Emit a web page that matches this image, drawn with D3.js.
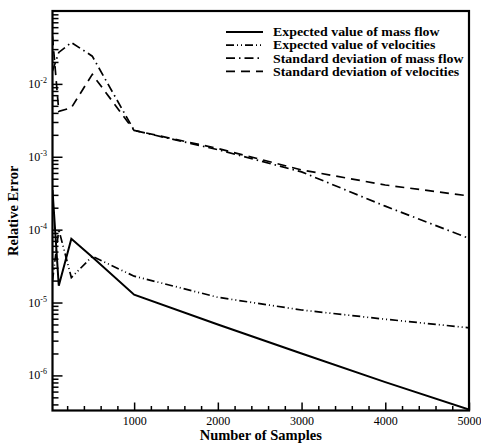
<!DOCTYPE html>
<html>
<head>
<meta charset="utf-8">
<script src="https://cdn.jsdelivr.net/npm/d3@7"></script>
<style>
  body { margin: 0; background: #fff; }
  svg { display: block; font-family: "Liberation Serif", "Times New Roman", serif; }
</style>
</head>
<body>
<svg id="chart" width="481" height="443"></svg>
<script>
// data
var samples = [25, 100, 250, 500, 1000, 2000, 3000, 4000, 5000];
var expMassFlow = [3.5e-4, 1.7e-5, 7.5e-5, 4.2e-5, 1.28e-5, 5.0e-6, 2.0e-6, 8.1e-7, 3.4e-7];
var expVelocities = [2.0e-5, 1.0e-4, 2.2e-5, 4.3e-5, 2.3e-5, 1.18e-5, 7.9e-6, 5.9e-6, 4.5e-6];
var stdMassFlow = [1.5e-2, 2.7e-2, 3.7e-2, 2.4e-2, 2.3e-3, 1.25e-3, 6.2e-4, 2.1e-4, 7.6e-5];
var stdVelocities = [4.5e-2, 4.2e-3, 4.7e-3, 1.35e-2, 2.3e-3, 1.3e-3, 6.6e-4, 4.1e-4, 2.9e-4];

var seriesNames = ["Expected value of mass flow", "Expected value of velocities",
  "Standard deviation of mass flow", "Standard deviation of velocities"];
var xTicks = [1000, 2000, 3000, 4000, 5000];
var yTickExp = [-2, -3, -4, -5, -6];

var series = [
  { name: seriesNames[0], values: expMassFlow, dash: null },
  { name: seriesNames[1], values: expVelocities, dash: "8,3,1,3,1,3" },
  { name: seriesNames[2], values: stdMassFlow, dash: "9,4,1.5,4" },
  { name: seriesNames[3], values: stdVelocities, dash: "9,6" }
];

// plot box (window.top is reserved, so use own names)
var plotL = 52.5, plotR = 469, plotT = 11, plotB = 410.5;

var svg = d3.select("#chart");

var x = d3.scaleLinear().domain([25, 5000]).range([plotL, plotR]);
var y = d3.scaleLog().domain([3.3e-7, 0.1]).range([plotB, plotT]);

// minor ticks
var xMinor = d3.range(200, 5000, 200).filter(function(v) { return v % 1000 !== 0; });
var yMinor = [];
for (var e = -7; e <= -2; e++) {
  for (var k = 2; k <= 9; k++) {
    var v = k * Math.pow(10, e);
    if (v > 3.3e-7 && v < 0.1) yMinor.push(v);
  }
}

// x axis
svg.append("g")
  .attr("transform", "translate(0," + plotB + ")")
  .call(d3.axisBottom(x).tickValues(xMinor).tickSizeInner(-4.5).tickSizeOuter(0).tickFormat(""))
  .call(function(g) { g.select(".domain").remove(); });

svg.append("g")
  .attr("transform", "translate(0," + plotB + ")")
  .call(d3.axisBottom(x).tickValues(xTicks).tickSizeInner(-8).tickSizeOuter(0).tickPadding(5.5).tickFormat(d3.format("d")))
  .call(function(g) {
    g.select(".domain").remove();
    g.selectAll("text").attr("font-size", 12).attr("font-family", "Liberation Serif");
  });

// y axis
svg.append("g")
  .attr("transform", "translate(" + plotL + ",0)")
  .call(d3.axisLeft(y).tickValues(yMinor).tickSizeInner(-6).tickSizeOuter(0).tickFormat(""))
  .call(function(g) { g.select(".domain").remove(); });

var yMajor = yTickExp.map(function(p) { return Math.pow(10, p); });
svg.append("g")
  .attr("transform", "translate(" + plotL + ",0)")
  .call(d3.axisLeft(y).tickValues(yMajor).tickSizeInner(-10).tickSizeOuter(0).tickFormat(""))
  .call(function(g) { g.select(".domain").remove(); });

svg.selectAll("line").attr("stroke-width", 1.5);

// y labels with superscripts
var lab = svg.append("g").selectAll("text")
  .data(yTickExp)
  .enter().append("text")
  .attr("x", 47)
  .attr("y", function(p) { return y(Math.pow(10, p)) + 4; })
  .attr("text-anchor", "end")
  .attr("font-size", 12);
lab.append("tspan").text("10");
lab.append("tspan").attr("font-size", 8).attr("dy", -5).text(function(p) { return "-" + Math.abs(p); });

// lines
svg.append("clipPath").attr("id", "clip")
  .append("rect").attr("x", plotL).attr("y", plotT).attr("width", plotR - plotL).attr("height", plotB - plotT);

var line = d3.line()
  .x(function(d, i) { return x(samples[i]); })
  .y(function(d) { return y(d); });

svg.append("g").attr("clip-path", "url(#clip)")
  .selectAll("path")
  .data(series)
  .enter().append("path")
  .attr("d", function(s) { return line(s.values); })
  .attr("fill", "none")
  .attr("stroke", "#000")
  .attr("stroke-width", function(s) { return s.dash ? 1.7 : 2; })
  .attr("stroke-dasharray", function(s) { return s.dash; });

// frame
svg.append("rect")
  .attr("x", plotL).attr("y", plotT)
  .attr("width", plotR - plotL).attr("height", plotB - plotT)
  .attr("fill", "none").attr("stroke", "#000").attr("stroke-width", 2.2);

// legend (text is wide and short in the original, so stretch it a bit)
var leg = svg.append("g").selectAll("g")
  .data(series)
  .enter().append("g")
  .attr("transform", function(s, i) { return "translate(226," + (32 + i * 13.1) + ")"; });
leg.append("line")
  .attr("x1", 0).attr("x2", 37)
  .attr("stroke", "#000")
  .attr("stroke-width", function(s) { return s.dash ? 1.7 : 2; })
  .attr("stroke-dasharray", function(s) { return s.dash; });
leg.append("text")
  .attr("transform", "translate(47,4.3) scale(1.13,1)")
  .attr("font-size", 12.3)
  .attr("font-weight", "bold")
  .text(function(s) { return s.name; });

// axis titles
svg.append("text")
  .attr("x", (plotL + plotR) / 2).attr("y", 440)
  .attr("text-anchor", "middle")
  .attr("font-size", 14.5).attr("font-weight", "bold")
  .text("Number of Samples");

svg.append("text")
  .attr("transform", "translate(18," + (plotT + plotB) / 2 + ") rotate(-90)")
  .attr("text-anchor", "middle")
  .attr("font-size", 14.5).attr("font-weight", "bold")
  .text("Relative Error");
</script>
</body>
</html>
